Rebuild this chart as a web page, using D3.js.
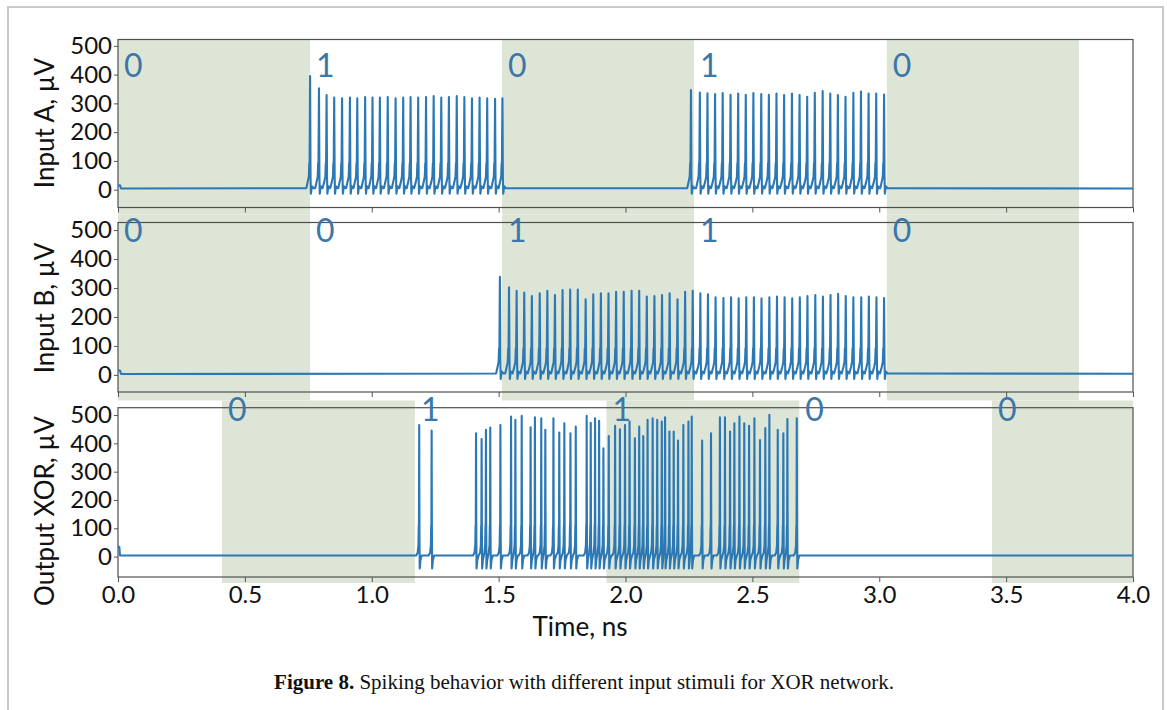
<!DOCTYPE html>
<html>
<head>
<meta charset="utf-8">
<script src="https://cdn.jsdelivr.net/npm/d3@7"></script>
<style>
  body { margin: 0; background: #fff; }
  text { font-family: Lato, "Open Sans", sans-serif; }
</style>
</head>
<body>
<div id="chart"></div>
<script>
// ---- data ----
var timeTicks = [0, 0.5, 1.0, 1.5, 2.0, 2.5, 3.0, 3.5, 4.0];
var voltTicks = [0, 100, 200, 300, 400, 500];

// input windows (ns) and the logic value written in each window
var edgesAB  = [0, 0.757, 1.513, 2.270, 3.030, 3.787];
var edgesOut = [0.41, 1.17, 1.925, 2.685, 3.444, 4.0];
var bitsA   = ["0", "1", "0", "1", "0"];
var bitsB   = ["0", "0", "1", "1", "0"];
var bitsOut = ["0", "1", "1", "0", "0"];

// spike times (ns) and peak heights (µV)
var spikeTimesA = [0.757, 0.792, 0.822, 0.852, 0.883, 0.914, 0.943, 0.974, 1.003, 1.032, 1.063, 1.094, 1.124,
                   1.153, 1.183, 1.214, 1.244, 1.274, 1.304, 1.335, 1.365, 1.395, 1.425, 1.455, 1.486, 1.515,
                   2.258, 2.293, 2.323, 2.353, 2.383, 2.414, 2.444, 2.474, 2.504, 2.535, 2.565, 2.595, 2.625,
                   2.656, 2.686, 2.716, 2.746, 2.777, 2.807, 2.837, 2.867, 2.898, 2.928, 2.958, 2.988, 3.019];
var spikePeaksA = [395, 352, 329, 320, 318, 320, 318, 322, 320, 320, 322, 318, 320,
                   322, 320, 322, 325, 320, 322, 325, 322, 318, 320, 318, 316, 318,
                   346, 338, 335, 332, 336, 330, 334, 330, 336, 332, 330, 334, 329,
                   334, 329, 323, 337, 343, 334, 329, 323, 337, 341, 334, 334, 331];

var spikeTimesB = [1.505, 1.541, 1.571, 1.601, 1.631, 1.662, 1.692, 1.722, 1.752, 1.782, 1.812, 1.843, 1.873,
                   1.903, 1.933, 1.963, 1.993, 2.024, 2.054, 2.084, 2.114, 2.144, 2.174, 2.205, 2.235, 2.265,
                   2.295, 2.325, 2.355, 2.386, 2.416, 2.446, 2.476, 2.506, 2.536, 2.567, 2.597, 2.627, 2.657,
                   2.687, 2.717, 2.748, 2.778, 2.808, 2.838, 2.868, 2.898, 2.929, 2.959, 2.989, 3.019];
var spikePeaksB = [339, 302, 290, 284, 272, 282, 290, 276, 293, 295, 295, 261, 278,
                   282, 282, 287, 287, 290, 290, 270, 272, 276, 282, 261, 287, 290,
                   282, 278, 268, 265, 268, 264, 268, 268, 264, 268, 270, 268, 264,
                   268, 272, 276, 270, 276, 280, 272, 268, 268, 270, 268, 265];

var spikeTimesOut = [1.187, 1.236, 1.411, 1.433, 1.450, 1.467, 1.507, 1.549, 1.566, 1.591, 1.626, 1.643, 1.668,
                     1.684, 1.716, 1.739, 1.759, 1.783, 1.804, 1.847, 1.863, 1.880, 1.896, 1.913, 1.934, 1.959,
                     1.978, 1.998, 2.016, 2.037, 2.054, 2.070, 2.087, 2.107, 2.125, 2.143, 2.156, 2.173, 2.190,
                     2.207, 2.228, 2.248, 2.261, 2.302, 2.337, 2.372, 2.392, 2.412, 2.429, 2.449, 2.468, 2.487,
                     2.508, 2.530, 2.551, 2.567, 2.600, 2.622, 2.638, 2.675];
var spikePeaksOut = [465, 445, 436, 415, 448, 456, 465, 495, 483, 497, 457, 492, 489,
                     448, 489, 438, 471, 436, 459, 497, 473, 489, 480, 383, 426, 462,
                     450, 465, 477, 418, 459, 426, 483, 489, 483, 477, 492, 442, 442,
                     410, 465, 477, 495, 410, 436, 492, 492, 442, 471, 495, 471, 462,
                     489, 412, 454, 501, 448, 436, 486, 489];

// shape of one spike: [offset ns, µV], "peak" marks the top
var inputSpikeShape  = [[-0.015, 5], [-0.009, 28], [-0.005, 45], [-0.0032, 92], [-0.0022, 55], [0, "peak"],
                        [0.0018, 45], [0.0032, -14], [0.007, 12], [0.014, 5]];
var outputSpikeShape = [[-0.012, 4], [-0.006, 14], [-0.003, 40], [-0.0018, 105], [-0.0009, 115], [0, "peak"],
                        [0.001, 100], [0.002, -42], [0.005, -12], [0.010, 4]];

// start-up transient and rest level
var startA   = [[0, 15], [0.008, 15], [0.012, 4]];
var startB   = [[0, 15], [0.008, 15], [0.012, 3]];
var startOut = [[0, 35], [0.005, 35], [0.008, 4]];
var restLevel = 4;

// ---- layout ----
var width = 1167, height = 710;
var left = 118, right = 1133;

var svg = d3.select("#chart").append("svg")
    .attr("width", width)
    .attr("height", height);

svg.append("rect")
    .attr("x", 8).attr("y", 7)
    .attr("width", 1155).attr("height", 730)
    .attr("fill", "#fff")
    .attr("stroke", "#c9c9c9")
    .attr("stroke-width", 2);

var x = d3.scaleLinear().domain([0, 4]).range([left, right]);

var panels = [
  { name: "Input A, µV", top: 39.5, bottom: 207.5, domain: [-62, 522], shadeTop: 39.5, shadeBottom: 214.5,
    edges: edgesAB, bits: bitsA, bitY: 77, labelY: 123,
    times: spikeTimesA, peaks: spikePeaksA, shape: inputSpikeShape, start: startA },
  { name: "Input B, µV", top: 222.5, bottom: 392, domain: [-59, 526], shadeTop: 214.5, shadeBottom: 400.5,
    edges: edgesAB, bits: bitsB, bitY: 241.5, labelY: 308,
    times: spikeTimesB, peaks: spikePeaksB, shape: inputSpikeShape, start: startB },
  { name: "Output XOR, µV", top: 407.7, bottom: 577, domain: [-72, 526], shadeTop: 400.5, shadeBottom: 583,
    edges: edgesOut, bits: bitsOut, bitY: 420.5, labelY: 511,
    times: spikeTimesOut, peaks: spikePeaksOut, shape: outputSpikeShape, start: startOut }
];

// build the trace from spike list + spike shape
function buildTrace(p) {
  var pts = p.start.slice();
  var n = p.times.length;
  p.times.forEach(function (t, i) {
    var lo = i > 0 ? (p.times[i - 1] + t) / 2 : -1;
    var hi = i < n - 1 ? (t + p.times[i + 1]) / 2 : 5;
    p.shape.forEach(function (s) {
      var tt = t + s[0];
      if (tt > lo && tt <= hi) pts.push([tt, s[1] === "peak" ? p.peaks[i] : s[1]]);
    });
  });
  pts.push([4.0, restLevel]);
  return pts;
}

var shadeLayer = svg.append("g");
var axisLayer = svg.append("g");
var traceLayer = svg.append("g");
var bitLayer = svg.append("g");

panels.forEach(function (p, pi) {
  var y = d3.scaleLinear().domain(p.domain).range([p.bottom, p.top]);

  // shaded windows: every other input window
  var windows = d3.range(p.bits.length).map(function (i) {
    return { a: p.edges[i], b: Math.min(p.edges[i + 1], 4), bit: p.bits[i], shaded: i % 2 === 0 };
  });

  shadeLayer.selectAll(".shade" + pi)
    .data(windows.filter(function (d) { return d.shaded; }))
    .enter().append("rect")
    .attr("x", function (d) { return x(d.a); })
    .attr("width", function (d) { return x(d.b) - x(d.a); })
    .attr("y", p.shadeTop)
    .attr("height", p.shadeBottom - p.shadeTop)
    .attr("fill", "#dde5d6");

  var g = axisLayer.append("g");

  g.append("g")
    .attr("transform", "translate(" + left + ",0)")
    .call(d3.axisLeft(y).tickValues(voltTicks).tickSize(4).tickPadding(2))
    .call(function (a) { a.select(".domain").remove(); });

  g.append("g")
    .attr("transform", "translate(0," + p.bottom + ")")
    .call(d3.axisBottom(x).tickValues(timeTicks).tickSize(5).tickPadding(4)
      .tickFormat(pi === 2 ? d3.format(".1f") : ""))
    .call(function (a) { a.select(".domain").remove(); });

  g.selectAll(".tick line").attr("stroke", "#555");
  g.selectAll(".tick text").attr("fill", "#111").style("font-size", "24px");

  g.append("rect")
    .attr("x", left).attr("y", p.top)
    .attr("width", right - left).attr("height", p.bottom - p.top)
    .attr("fill", "none")
    .attr("stroke", "#505050")
    .attr("stroke-width", 1.2);

  g.append("text")
    .attr("transform", "translate(54," + p.labelY + ") rotate(-90)")
    .attr("text-anchor", "middle")
    .style("font-size", "26px")
    .attr("fill", "#111")
    .text(p.name);

  var line = d3.line()
    .x(function (d) { return x(d[0]); })
    .y(function (d) { return y(d[1]); });

  traceLayer.append("path")
    .datum(buildTrace(p))
    .attr("fill", "none")
    .attr("stroke", "#2b78b4")
    .attr("stroke-width", 2.1)
    .attr("stroke-linejoin", "round")
    .attr("d", line);

  bitLayer.selectAll(".bit" + pi)
    .data(windows)
    .enter().append("text")
    .attr("x", function (d) { return x(d.a) + 6; })
    .attr("y", p.bitY)
    .style("font-size", "32px")
    .attr("fill", "#3b77aa")
    .text(function (d) { return d.bit; });
});

svg.append("text")
  .attr("x", 580).attr("y", 636)
  .attr("text-anchor", "middle")
  .style("font-size", "26px")
  .attr("fill", "#111")
  .text("Time, ns");

var caption = svg.append("text")
  .attr("x", 584).attr("y", 689)
  .attr("text-anchor", "middle")
  .style("font-family", "'Liberation Serif', serif")
  .style("font-size", "21px")
  .attr("fill", "#111");
caption.append("tspan").style("font-weight", "bold").text("Figure 8.");
caption.append("tspan").text(" Spiking behavior with different input stimuli for XOR network.");
</script>
</body>
</html>
